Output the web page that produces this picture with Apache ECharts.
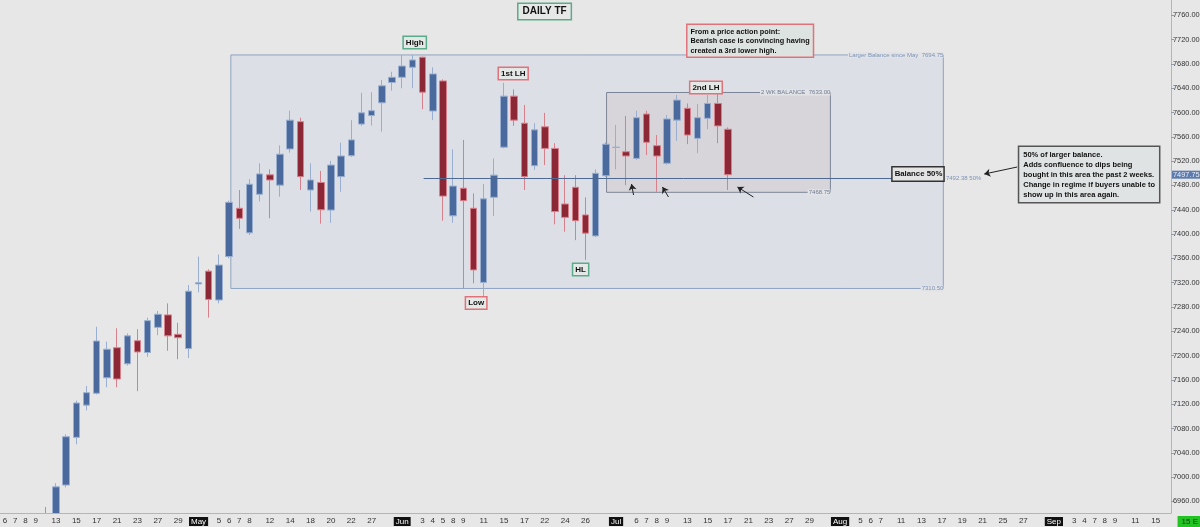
<!DOCTYPE html>
<html>
<head>
<meta charset="utf-8">
<title>DAILY TF</title>
<script src="https://cdn.jsdelivr.net/npm/echarts@6/dist/echarts.min.js"></script>
<style>
html, body { margin: 0; padding: 0; background: #e7e7e7; }
#main { width: 1200px; height: 527px; }
</style>
</head>
<body>
<div id="main"></div>
<script>
// trading days on the time axis (month-day)
var days = [
    '4-6', '4-7', '4-8', '4-9', '4-10', '4-13', '4-14', '4-15', '4-16', '4-17',
    '4-20', '4-21', '4-22', '4-23', '4-24', '4-27', '4-28', '4-29', '4-30', '5-1',
    '5-4', '5-5', '5-6', '5-7', '5-8', '5-11', '5-12', '5-13', '5-14', '5-15',
    '5-18', '5-19', '5-20', '5-21', '5-22', '5-26', '5-27', '5-28', '5-29', '6-1',
    '6-2', '6-3', '6-4', '6-5', '6-8', '6-9', '6-10', '6-11', '6-12', '6-15',
    '6-16', '6-17', '6-18', '6-22', '6-23', '6-24', '6-25', '6-26', '6-29', '6-30',
    '7-1', '7-2', '7-6', '7-7', '7-8', '7-9', '7-10', '7-13', '7-14', '7-15',
    '7-16', '7-17', '7-20', '7-21', '7-22', '7-23', '7-24', '7-27', '7-28', '7-29',
    '7-30', '7-31', '8-3', '8-4', '8-5', '8-6', '8-7', '8-10', '8-11', '8-12',
    '8-13', '8-14', '8-17', '8-18', '8-19', '8-20', '8-21', '8-24', '8-25', '8-26',
    '8-27', '8-28', '8-31', '9-1', '9-2', '9-3', '9-4', '9-7', '9-8', '9-9',
    '9-10', '9-11', '9-14', '9-15', '9-16'
];
// days that get a label on the axis
var shownDays = [
    '4-6', '4-7', '4-8', '4-9', '4-13', '4-15', '4-17', '4-21', '4-23', '4-27', '4-29',
    '5-1', '5-5', '5-6', '5-7', '5-8', '5-12', '5-14', '5-18', '5-20', '5-22', '5-27',
    '6-1', '6-3', '6-4', '6-5', '6-8', '6-9', '6-11', '6-15', '6-17', '6-22', '6-24', '6-26',
    '7-1', '7-6', '7-7', '7-8', '7-9', '7-13', '7-15', '7-17', '7-21', '7-23', '7-27', '7-29',
    '8-3', '8-5', '8-6', '8-7', '8-11', '8-13', '8-17', '8-19', '8-21', '8-25', '8-27',
    '9-1', '9-3', '9-4', '9-7', '9-8', '9-9', '9-11', '9-15'
];
var monthStarts = { '5-1': 'May', '6-1': 'Jun', '7-1': 'Jul', '8-3': 'Aug', '9-1': 'Sep' };

// daily candles
var candleDays = [
    '4-10', '4-13', '4-14', '4-15', '4-16', '4-17', '4-20', '4-21', '4-22', '4-23',
    '4-24', '4-27', '4-28', '4-29', '4-30', '5-1', '5-4', '5-5', '5-6', '5-7',
    '5-8', '5-11', '5-12', '5-13', '5-14', '5-15', '5-18', '5-19', '5-20', '5-21',
    '5-22', '5-26', '5-27', '5-28', '5-29', '6-1', '6-2', '6-3', '6-4', '6-5',
    '6-8', '6-9', '6-10', '6-11', '6-12', '6-15', '6-16', '6-17', '6-18', '6-22',
    '6-23', '6-24', '6-25', '6-26', '6-29', '6-30', '7-1', '7-2', '7-6', '7-7',
    '7-8', '7-9', '7-10', '7-13', '7-14', '7-15', '7-16', '7-17'
];
var openData = [
    6932, 6925, 6987, 7065.5, 7118.5, 7138, 7163.5, 7213, 7186.5, 7224.5,
    7205, 7246.5, 7267, 7235, 7211.5, 7318, 7339, 7291.5, 7363, 7442.5,
    7402, 7465.5, 7497.5, 7480.5, 7540, 7585, 7472.5, 7485, 7439.5, 7494.5,
    7529, 7581, 7595, 7616, 7649.5, 7658, 7674.5, 7691, 7602.5, 7652,
    7430, 7475.5, 7442.5, 7320.5, 7460.5, 7543, 7627, 7582.5, 7512.5, 7576.5,
    7541, 7449.5, 7477, 7431.5, 7397, 7496, 7542.5, 7535.5, 7524.5, 7597.5,
    7545.5, 7516.5, 7587.5, 7607, 7557.5, 7590.5, 7615, 7572.5
];
var highData = [
    6951, 6990, 7070.5, 7126, 7150, 7247.5, 7223, 7245, 7236.5, 7243.5,
    7262.5, 7273.5, 7286, 7254, 7316, 7363, 7342, 7366.5, 7455, 7472.5,
    7490.5, 7516.5, 7506.5, 7546, 7603, 7591.5, 7516.5, 7504, 7520.5, 7550.5,
    7587.5, 7632.5, 7633.5, 7653.5, 7667, 7694.75, 7694.5, 7692, 7674.5, 7654.5,
    7539.5, 7555, 7467, 7482.5, 7524.5, 7649, 7638, 7612.5, 7582.5, 7599.5,
    7549.5, 7497, 7497, 7460.5, 7506.5, 7551, 7579.5, 7594.5, 7603, 7603,
    7563, 7596, 7629, 7615, 7614, 7629, 7633, 7575.5
];
var lowData = [
    6895, 6915, 6983, 7054, 7110, 7136, 7148, 7148, 7183.5, 7141.5,
    7198, 7233.5, 7208, 7194, 7196, 7304, 7262.5, 7286, 7360, 7408.5,
    7398.5, 7453.5, 7426, 7461.5, 7534, 7472.5, 7437, 7417, 7418.5, 7469.5,
    7527, 7578, 7578.5, 7568.5, 7636, 7640, 7640, 7605.5, 7587.5, 7422,
    7418.5, 7310.5, 7319, 7297, 7429.5, 7541, 7578, 7472.5, 7505.5, 7513.5,
    7416, 7404, 7390, 7357.5, 7395, 7494, 7506.5, 7480.5, 7522, 7530,
    7469.5, 7514, 7553.5, 7548, 7533, 7572.5, 7549.5, 7472.5
];
var closeData = [
    6912, 6984, 7066.5, 7122, 7139, 7224, 7210.5, 7161.5, 7232.5, 7206,
    7257.5, 7268, 7232.5, 7229.5, 7306, 7320, 7292.5, 7349, 7452.25, 7426,
    7482, 7499, 7489, 7531.5, 7587.5, 7494.5, 7489, 7440, 7513.5, 7528.5,
    7555, 7599.5, 7603, 7644, 7658, 7676.5, 7686.5, 7633.5, 7663.5, 7462.5,
    7479, 7455, 7341, 7458, 7497, 7627, 7587.5, 7494.5, 7571.5, 7541,
    7437, 7427.5, 7422, 7401.5, 7500, 7548, 7543, 7528.5, 7591.5, 7551,
    7528.5, 7589.5, 7620.5, 7563, 7591.5, 7615, 7578, 7497.75
];

// price scale labels
var yTicks = [6960, 7000, 7040, 7080, 7120, 7160, 7200, 7240, 7280, 7320, 7360,
    7400, 7440, 7480, 7520, 7560, 7600, 7640, 7680, 7720, 7760];

// levels drawn on the chart
var lastPrice = 7497.75;
var largerBalance = [7694.75, 7310.50];
var twoWeekBalance = [7633.00, 7468.75];
var balanceMid = 7492.38;

var fontFamily = '"Liberation Sans", Arial, sans-serif';
var bullColor = '#4a6a9d';
var bearColor = '#8c2735';
var bgColor = '#e7e7e7';

var firstIdx = days.indexOf(candleDays[0]);
var candleData = days.map(function (d, i) {
    var k = i - firstIdx;
    if (k < 0 || k >= candleDays.length) {
        return '-';
    }
    return [openData[k], closeData[k], lowData[k], highData[k]];
});

var chart = echarts.init(document.getElementById('main'));

var option = {
    backgroundColor: bgColor,
    animation: false,
    textStyle: { fontFamily: fontFamily },
    grid: { left: 0, right: 29, top: 0, bottom: 14, containLabel: false, outerBoundsMode: 'none' },
    xAxis: [{
        type: 'category',
        data: days,
        boundaryGap: true,
        z: 10,
        axisLine: { onZero: false, lineStyle: { color: '#a9b7ca' } },
        axisTick: {
            alignWithLabel: true,
            length: 3,
            interval: function (i, v) { return shownDays.indexOf(v) >= 0; },
            lineStyle: { color: '#a9b7ca' }
        },
        axisLabel: {
            interval: function (i, v) { return shownDays.indexOf(v) >= 0; },
            margin: 4,
            fontSize: 8,
            color: '#333',
            formatter: function (v) {
                if (monthStarts[v]) {
                    return '{m|' + monthStarts[v] + '}';
                }
                return v.split('-')[1];
            },
            rich: {
                m: { backgroundColor: '#111', color: '#fff', fontSize: 8, padding: [1, 2, 0, 2] }
            }
        },
        splitLine: { show: false }
    }, {
        // helper axis for drawings between candles
        type: 'value',
        min: -0.5,
        max: days.length - 0.5,
        show: false
    }],
    yAxis: {
        type: 'value',
        position: 'right',
        min: 6941,
        max: 7785.2,
        z: 10,
        axisLine: { show: true, onZero: false, lineStyle: { color: '#a9b7ca' } },
        axisTick: { show: true, length: 3, customValues: yTicks, lineStyle: { color: '#8d9bb0' } },
        axisLabel: {
            customValues: yTicks,
            margin: 2,
            fontSize: 7.4,
            color: '#333',
            formatter: function (v) { return v.toFixed(2); }
        },
        splitLine: { show: false }
    },
    series: [{
        name: 'daily',
        type: 'candlestick',
        z: 3,
        clip: true,
        barWidth: 7,
        data: candleData,
        itemStyle: {
            color: bullColor,
            color0: bearColor,
            borderColor: '#9aafd0',
            borderColor0: '#d6808c',
            borderWidth: 1
        },
        markLine: {
            silent: true,
            symbol: 'none',
            lineStyle: { color: 'rgba(0,0,0,0)', width: 1, type: 'solid' },
            label: {
                show: true,
                position: 'end',
                distance: 1,
                formatter: lastPrice.toFixed(2),
                backgroundColor: '#5d7bad',
                color: '#e9eef7',
                fontSize: 7.4,
                padding: [1, 1, 0, 1]
            },
            data: [{ yAxis: lastPrice }]
        }
    }, {
        name: 'drawings',
        type: 'line',
        xAxisIndex: 1,
        z: 1,
        data: [],
        markArea: {
            silent: true,
            data: [
                [{ coord: [22.17, largerBalance[0]], itemStyle: { color: '#dce0e6', borderColor: '#8ea3c1', borderWidth: 1 } },
                 { coord: [92.14, largerBalance[1]] }],
                [{ coord: [59.07, twoWeekBalance[0]], itemStyle: { color: '#d8d5da', borderColor: '#7c8598', borderWidth: 1 } },
                 { coord: [81.05, twoWeekBalance[1]] }]
            ]
        },
        markLine: {
            silent: true,
            label: { show: false },
            symbolSize: 6,
            data: [
                [{ coord: [41.1, balanceMid], symbol: 'none', lineStyle: { color: '#4d6891', width: 1, type: 'solid' } },
                 { coord: [92.14, balanceMid], symbol: 'none' }],
                [{ coord: [99.4, 7510.4], symbol: 'none', lineStyle: { color: '#222', width: 1, type: 'solid' } },
                 { coord: [96.16, 7498.8], symbol: 'arrow' }],
                [{ coord: [61.72, 7464.3], symbol: 'none', lineStyle: { color: '#222', width: 1, type: 'solid' } },
                 { coord: [61.52, 7482.4], symbol: 'arrow' }],
                [{ coord: [65.15, 7461], symbol: 'none', lineStyle: { color: '#222', width: 1, type: 'solid' } },
                 { coord: [64.56, 7477.5], symbol: 'arrow' }],
                [{ coord: [73.49, 7461], symbol: 'none', lineStyle: { color: '#222', width: 1, type: 'solid' } },
                 { coord: [71.92, 7477.5], symbol: 'arrow' }]
            ]
        }
    }]
};
chart.setOption(option);

// text annotations, placed through the chart's own scales
function toPx(x, price) {
    return chart.convertToPixel({ seriesIndex: 1 }, [x, price]);
}

function tag(text, x, price, border) {
    var p = toPx(x, price);
    return {
        type: 'text', z: 100,
        style: {
            text: text, x: p[0], y: p[1], align: 'center', verticalAlign: 'middle',
            font: 'bold 8px ' + fontFamily, fill: '#111',
            backgroundColor: '#e4e8e6', borderColor: border, borderWidth: 1.5,
            padding: [2, 2, 1, 2]
        }
    };
}

function levelText(text, x, price, color, align) {
    var p = toPx(x, price);
    return {
        type: 'text', z: 90,
        style: {
            text: text, x: p[0], y: p[1], align: align || 'right', verticalAlign: 'middle',
            font: '6px ' + fontFamily, fill: color,
            backgroundColor: align ? 'transparent' : '#e2e3e6',
            padding: [0, 0, 0, 1]
        }
    };
}

var green = '#5aab8a';
var red = '#e0727a';

var graphics = [
    tag('High', 40.23, 7715.2, green),
    tag('1st LH', 49.9, 7664.2, red),
    tag('2nd LH', 68.83, 7641.2, red),
    tag('Low', 46.26, 7286.6, red),
    tag('HL', 56.52, 7341.7, green),
    levelText('Larger Balance since May  ' + largerBalance[0].toFixed(2), 92.14, largerBalance[0], '#7b92b6'),
    levelText(largerBalance[1].toFixed(2), 92.14, largerBalance[1], '#7b92b6'),
    levelText('2 WK BALANCE  ' + twoWeekBalance[0].toFixed(2), 81.05, twoWeekBalance[0], '#6e7a91'),
    levelText(twoWeekBalance[1].toFixed(2), 81.05, twoWeekBalance[1], '#6e7a91'),
    levelText(balanceMid.toFixed(2) + ' 50%', 92.3, balanceMid, '#7b92b6', 'left')
];

// hide the part of the first candles that falls under the time axis
var floorLeft = toPx(-0.5, 6941);
var floorRight = toPx(days.length - 0.5, 6941);
graphics.push({
    type: 'rect', z: 5, silent: true,
    shape: { x: 0, y: floorLeft[1] + 0.5, width: floorRight[0], height: 527 - floorLeft[1] },
    style: { fill: bgColor }
});

var tf = toPx(52.98, 7766.3);
graphics.push({
    type: 'text', z: 100,
    style: {
        text: 'DAILY TF', x: tf[0], y: tf[1], align: 'center', verticalAlign: 'middle',
        font: 'bold 10px ' + fontFamily, fill: '#111',
        backgroundColor: '#e6e8e7', borderColor: green, borderWidth: 1.5,
        padding: [3, 4, 2, 4]
    }
});

var bal = toPx(92.14, 7498.8);
graphics.push({
    type: 'text', z: 100,
    style: {
        text: 'Balance 50%', x: bal[0], y: bal[1], align: 'right', verticalAlign: 'middle',
        font: 'bold 7.8px ' + fontFamily, fill: '#111',
        backgroundColor: '#e4e4e4', borderColor: '#333', borderWidth: 1.5,
        padding: [3, 1, 2, 2]
    }
});

var pa = toPx(67.02, 7744.0);
graphics.push({
    type: 'text', z: 100,
    style: {
        text: 'From a price action point:\nBearish case is convincing having\ncreated a 3rd lower high.',
        x: pa[0], y: pa[1], align: 'left', verticalAlign: 'top',
        font: 'bold 7.3px ' + fontFamily, fill: '#111', lineHeight: 9.5,
        backgroundColor: '#dde3e0', borderColor: red, borderWidth: 1.5,
        padding: [2, 3, 1, 3]
    }
});

var nt = toPx(99.6, 7543.3);
graphics.push({
    type: 'text', z: 100,
    style: {
        text: '50% of larger balance.\nAdds confluence to dips being\nbought in this area the past 2 weeks.\nChange in regime if buyers unable to\nshow up in this area again.',
        x: nt[0], y: nt[1], align: 'left', verticalAlign: 'top',
        font: 'bold 7.5px ' + fontFamily, fill: '#111', lineHeight: 10,
        backgroundColor: '#e0e3e3', borderColor: '#555', borderWidth: 1.5,
        padding: [3, 4, 2, 4]
    }
});

graphics.push({
    type: 'text', z: 100, right: 0, bottom: 0,
    style: {
        text: '15 E', font: '8px ' + fontFamily, fill: '#0a3a0a',
        backgroundColor: '#22c322', padding: [2, 2, 1, 4]
    }
});

chart.setOption({ graphic: graphics });
</script>
</body>
</html>
